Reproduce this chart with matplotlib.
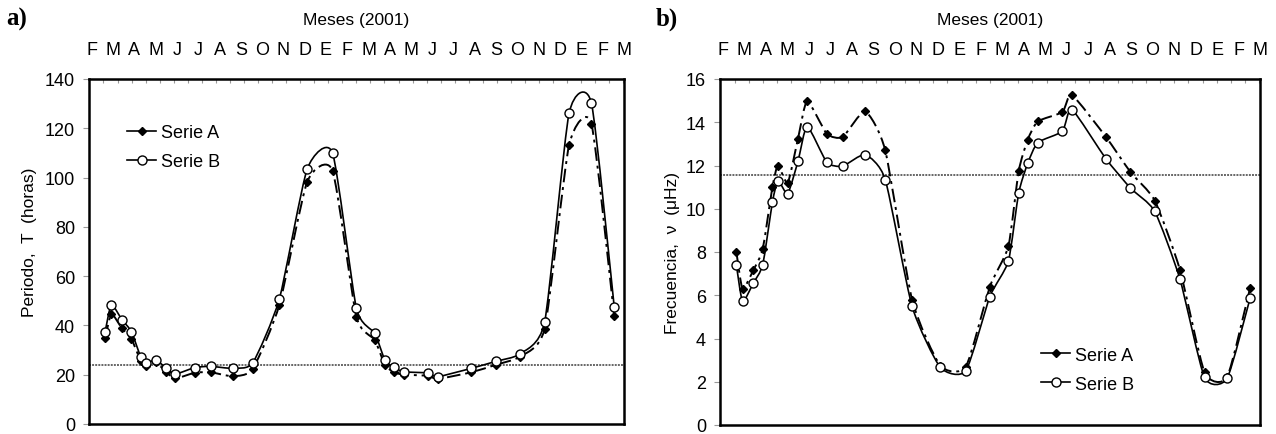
import numpy as np
import matplotlib
matplotlib.use("Agg")
import matplotlib.pyplot as plt
from matplotlib.path import Path
from matplotlib.patches import PathPatch
from matplotlib.lines import Line2D

plt.rcParams['font.family'] = ['Liberation Sans', 'DejaVu Sans']

# ---------------- data ----------------
months = ["F", "M", "A", "M", "J", "J", "A", "S", "O", "N", "D", "E",
          "F", "M", "A", "M", "J", "J", "A", "S", "O", "N", "D", "E", "F", "M"]

# time of each observation (in months, 0 = February)
t = [0.63, 0.92, 1.42, 1.86, 2.31, 2.57, 3.02, 3.50, 3.93, 4.84, 5.58, 6.62,
     7.56, 8.81, 10.12, 11.31, 12.43, 13.29, 13.77, 14.19, 14.66, 15.80,
     16.25, 17.83, 18.97, 20.10, 21.27, 22.42, 23.47, 24.54]

# panel a) period T (hours)
period_A = [34.8, 44.6, 38.8, 34.5, 25.5, 23.7, 25.0, 21.0, 18.5, 20.8, 21.0, 19.4,
            22.3, 48.3, 98.3, 102.8, 43.5, 34.1, 24.0, 21.0, 20.0, 19.6,
            18.3, 21.0, 24.0, 27.3, 38.6, 113.2, 121.8, 43.7]
period_B = [37.5, 48.4, 42.3, 37.5, 27.0, 24.8, 26.0, 22.6, 20.3, 22.9, 23.4, 22.6,
            24.8, 50.7, 103.5, 110.0, 47.0, 36.8, 26.0, 23.0, 21.2, 20.7,
            19.2, 22.6, 25.4, 28.4, 41.3, 126.1, 130.2, 47.6]

# panel b) frequency nu (microHz)
freq_A = [8.02, 6.30, 7.16, 8.15, 11.0, 12.0, 11.2, 13.24, 14.97, 13.47, 13.32, 14.5,
          12.7, 5.79, 2.75, 2.70, 6.40, 8.27, 11.74, 13.19, 14.04, 14.47,
          15.25, 13.32, 11.7, 10.38, 7.19, 2.44, 2.22, 6.34]
freq_B = [7.42, 5.72, 6.56, 7.42, 10.3, 11.3, 10.7, 12.2, 13.8, 12.15, 11.97, 12.5,
          11.35, 5.48, 2.67, 2.51, 5.94, 7.58, 10.73, 12.1, 13.06, 13.58,
          14.58, 12.31, 10.96, 9.88, 6.76, 2.20, 2.16, 5.87]

ref_period = 24.0      # hours
ref_freq = 11.57       # microHz

# ---------------- helpers ----------------
def smooth_patch(ax, x, y, k=0.10, **kw):
    pts = np.column_stack([x, y]).astype(float)
    n = len(pts)
    verts = [pts[0]]
    codes = [Path.MOVETO]
    for i in range(n - 1):
        p0 = pts[i - 1] if i > 0 else pts[i]
        p1 = pts[i]
        p2 = pts[i + 1]
        p3 = pts[i + 2] if i + 2 < n else pts[i + 1]
        c1 = p1 + (p2 - p0) * k
        c2 = p2 - (p3 - p1) * k
        verts += [c1, c2, p2]
        codes += [Path.CURVE4] * 3
    patch = PathPatch(Path(verts, codes), fill=False, transform=ax.transData, **kw)
    ax.add_patch(patch)
    return patch

W, H = 1276, 435
fig = plt.figure(figsize=(W / 100, H / 100), dpi=100)

def px_axes(x0, x1, ytop, ybot):
    return fig.add_axes([x0 / W, 1 - ybot / H, (x1 - x0) / W, (ybot - ytop) / H])

axA = px_axes(89, 624, 80, 425)
axB = px_axes(720, 1260, 80, 426)

dashdot = (0, (7, 2.5, 1.5, 2.5))

def style_axes(ax, ymax, ystep):
    ax.set_xlim(-0.13, 25.0)
    ax.set_ylim(0, ymax)
    ax.set_yticks(np.arange(0, ymax + 0.1, ystep))
    ax.xaxis.tick_top()
    ax.set_xticks(range(len(months)))
    ax.set_xticklabels(months, fontsize=13)
    ax.tick_params(axis='x', which='major', length=0, pad=15)
    ax.set_xticks(np.arange(0.55, 25, 0.66), minor=True)
    ax.tick_params(axis='x', which='minor', direction='in', length=3,
                   color='#999999', width=0.8)
    ax.tick_params(axis='y', length=4, width=0.8, color='#999999',
                   labelsize=13, pad=6)
    for s in ax.spines.values():
        s.set_linewidth(1.8)
        s.set_color('black')

def draw(ax, yA, yB, ref):
    ax.axhline(ref, color='#666666', lw=1.4, ls=(0, (1, 0.6)), zorder=1)
    smooth_patch(ax, t, yA, color='black', lw=1.4, linestyle=dashdot, zorder=2)
    smooth_patch(ax, t, yB, color='black', lw=1.2, zorder=3)
    ax.plot(t, yA, ls='none', marker='D', ms=4.3, mfc='black', mec='black', zorder=4)
    ax.plot(t, yB, ls='none', marker='o', ms=6.5, mfc='white', mec='black',
            mew=1.0, zorder=5)

style_axes(axA, 140, 20)
style_axes(axB, 16, 2)
draw(axA, period_A, period_B, ref_period)
draw(axB, freq_A, freq_B, ref_freq)

handles = [Line2D([], [], color='black', lw=1.2, marker='D', ms=4.3, mfc='black'),
           Line2D([], [], color='black', lw=1.2, marker='o', ms=6.5, mfc='white')]
labels = ["Serie A", "Serie B"]
axA.legend(handles, labels, loc='upper left', bbox_to_anchor=(0.055, 0.895),
           frameon=False, fontsize=13, handlelength=1.6, handletextpad=0.25,
           labelspacing=0.65, borderpad=0)
axB.legend(handles, labels, loc='center left', bbox_to_anchor=(0.578, 0.160),
           frameon=False, fontsize=13, handlelength=1.6, handletextpad=0.25,
           labelspacing=0.65, borderpad=0)

axA.set_ylabel("Periodo,  T  (horas)", fontsize=12.5)
axA.yaxis.set_label_coords(-0.097, 0.53)
axB.set_ylabel("Frecuencia,  \u03bd  (\u03bcHz)", fontsize=12.5)
axB.yaxis.set_label_coords(-0.074, 0.5)

fig.text(356 / W, 1 - 20 / H, "Meses (2001)", ha='center', va='center', fontsize=12.5)
fig.text(990 / W, 1 - 20 / H, "Meses (2001)", ha='center', va='center', fontsize=12.5)

fig.text(6 / W, 1 - 19 / H, "a)", ha='left', va='center', fontsize=18,
         fontweight='bold', family='Liberation Serif')
fig.text(656 / W, 1 - 19 / H, "b)", ha='left', va='center', fontsize=18,
         fontweight='bold', family='Liberation Serif')

fig.savefig("out.png", dpi=100)
